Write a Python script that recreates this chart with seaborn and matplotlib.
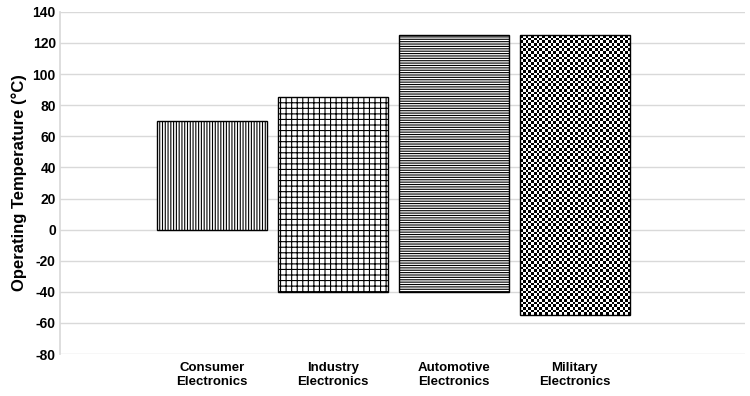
import numpy as np
import pandas as pd
import matplotlib
matplotlib.use("Agg")
import matplotlib.pyplot as plt
import seaborn as sns

# ================= DATA =================

categories = [
    "Consumer\nElectronics",
    "Industry\nElectronics",
    "Automotive\nElectronics",
    "Military\nElectronics",
]
temp_low = [0, -40, -40, -55]
temp_high = [70, 85, 125, 125]
hatches = ["||||||", "+++", "-------", "checker"]

y_ticks = list(range(-80, 141, 20))

df = pd.DataFrame({
    "category": categories,
    "low": temp_low,
    "high": temp_high,
})
df["span"] = df["high"] - df["low"]

# ================= STYLE =================

sns.set_theme(style="white")
plt.rcParams["font.family"] = ["Liberation Sans", "DejaVu Sans"]
plt.rcParams["hatch.linewidth"] = 0.8
plt.rcParams["text.color"] = "black"
plt.rcParams["axes.labelcolor"] = "black"
plt.rcParams["xtick.color"] = "black"
plt.rcParams["ytick.color"] = "black"

fig = plt.figure(figsize=(7.5, 3.96), dpi=100)
ax = fig.add_axes([0.08, 0.106, 0.913, 0.864])

sns.barplot(
    data=df,
    x="category",
    y="span",
    bottom=df["low"].values,
    color="white",
    edgecolor="black",
    linewidth=1.0,
    width=0.91,
    ax=ax,
    zorder=3,
)

# ================= HATCHES =================

for patch, h in zip(ax.patches, hatches):
    if h == "checker":
        x0, y0 = patch.get_x(), patch.get_y()
        w, hgt = patch.get_width(), patch.get_height()
        nx, ny = 40, 104
        board = (np.indices((ny, nx)).sum(axis=0) % 2).astype(float)
        im = ax.imshow(
            board,
            cmap="gray",
            extent=(x0, x0 + w, y0, y0 + hgt),
            interpolation="nearest",
            aspect="auto",
            zorder=3.5,
        )
        im.set_clip_path(patch)
        patch.set_facecolor("none")
        patch.set_zorder(4)
    else:
        patch.set_hatch(h)

# ================= AXES =================

ax.set_ylim(-80, 140)
ax.set_xlim(-1.256, 4.405)
ax.set_yticks(y_ticks)
ax.set_yticklabels([str(t) for t in y_ticks], fontsize=10, fontweight="bold")
ax.tick_params(axis="both", length=0, pad=3)
ax.tick_params(axis="x", pad=6)
for lbl in ax.get_xticklabels():
    lbl.set_fontsize(9.5)
    lbl.set_fontweight("bold")

ax.grid(axis="y", color="#d9d9d9", linewidth=1.0, zorder=0)
ax.set_axisbelow(True)

for side in ["top", "right", "bottom"]:
    ax.spines[side].set_visible(False)
ax.spines["left"].set_color("#d9d9d9")

ax.set_xlabel("")
ax.set_ylabel("Operating Temperature (°C)", fontsize=12, fontweight="bold", labelpad=4)

fig.savefig("out.png", dpi=100)
